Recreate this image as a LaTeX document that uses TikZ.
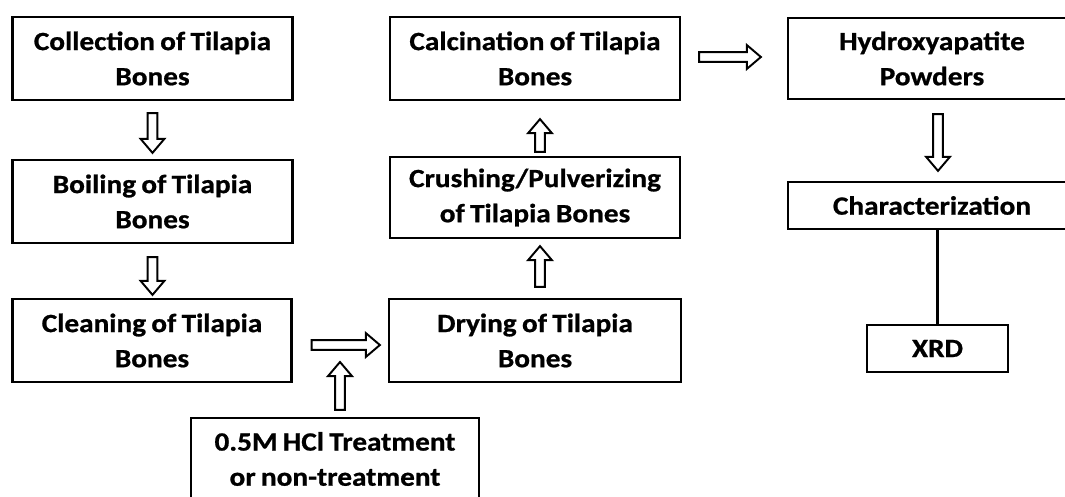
\documentclass[tikz,border=0pt]{standalone}
\usepackage{fontspec}
\setmainfont{Carlito}[BoldFeatures={FakeStretch=1.11, FakeBold=0.8, WordSpace=0.8}]
\usetikzlibrary{calc}

\tikzset{
    stepbox/.style={draw, line width=1.3pt, align=center, inner sep=0pt,
        font=\bfseries\fontsize{15}{20}\selectfont},
    hollow/.style={line width=1.1pt, line join=miter},
}

% Mũi tên rỗng (kiểu khối) từ #1 đến #2
\newcommand{\hollowarrow}[2]{%
    \coordinate (hs) at (#1);
    \coordinate (he) at (#2);
    \coordinate (hb) at ($(he)!8pt!(hs)$);
    \draw[hollow] ($(hs)!2.8pt!90:(he)$) -- ($(hb)!2.8pt!90:(he)$)
        -- ($(hb)!6.8pt!90:(he)$) -- (he) -- ($(hb)!6.8pt!-90:(he)$)
        -- ($(hb)!2.8pt!-90:(he)$) -- ($(hs)!2.8pt!-90:(he)$) -- cycle;
}

\begin{document}
\begin{tikzpicture}[x=0.02cm, y=-0.02cm]
    \useasboundingbox (0,0) rectangle (1065,497);

    % 1. Các hộp của cột trái
    \node[stepbox, minimum width=5.6cm, minimum height=1.66cm] (coll) at (152.5,58.5) {Collection of Tilapia\\Bones};
    \node[stepbox, minimum width=5.6cm, minimum height=1.66cm] (boil) at (152.5,201.5) {Boiling of Tilapia\\Bones};
    \node[stepbox, minimum width=5.58cm, minimum height=1.66cm] (clean) at (152,340.5) {Cleaning of Tilapia\\Bones};
    \node[stepbox, minimum width=5.76cm, minimum height=1.64cm] (hcl) at (335,459) {0.5M HCl Treatment\\or non-treatment};

    % 2. Các hộp của cột giữa
    \node[stepbox, minimum width=5.84cm, minimum height=1.66cm] (dry) at (535,340.5) {Drying of Tilapia\\Bones};
    \node[stepbox, minimum width=5.8cm, minimum height=1.62cm] (crush) at (535,197.5) {Crushing/Pulverizing\\of Tilapia Bones};
    \node[stepbox, minimum width=5.8cm, minimum height=1.66cm] (calc) at (535,58.5) {Calcination of Tilapia\\Bones};

    % 3. Các hộp của cột phải
    \node[stepbox, minimum width=5.76cm, minimum height=1.62cm] (hydro) at (932,58.5) {Hydroxyapatite\\Powders};
    \node[stepbox, minimum width=5.76cm, minimum height=0.94cm] (char) at (932,205.5) {Characterization};
    \node[stepbox, minimum width=2.82cm, minimum height=0.94cm] (xrd) at (937.5,348.5) {XRD};

    % 4. Các mũi tên rỗng
    \hollowarrow{$(coll.south)+(0,12)$}{$(boil.north)+(0,-6)$}
    \hollowarrow{$(boil.south)+(0,13)$}{$(clean.north)+(0.5,-3)$}
    \hollowarrow{$(clean.east)+(19,4.5)$}{$(dry.west)+(-8,4.5)$}
    \coordinate (hclin) at (340,362);
    \hollowarrow{$(hcl.north)+(5,-7)$}{hclin}
    \hollowarrow{$(dry.north)+(5,-11)$}{$(crush.south)+(5,7)$}
    \hollowarrow{$(crush.north)+(5,-4)$}{$(calc.south)+(5,18)$}
    \hollowarrow{$(calc.east)+(18,-1.5)$}{$(hydro.west)+(-26,-1.5)$}
    \hollowarrow{$(hydro.south)+(6,14)$}{$(char.north)+(6,-10)$}

    % 5. Đường nối tới XRD
    \draw[line width=1.3pt] (char.south -| xrd.north) -- (xrd.north);
\end{tikzpicture}
\end{document}
